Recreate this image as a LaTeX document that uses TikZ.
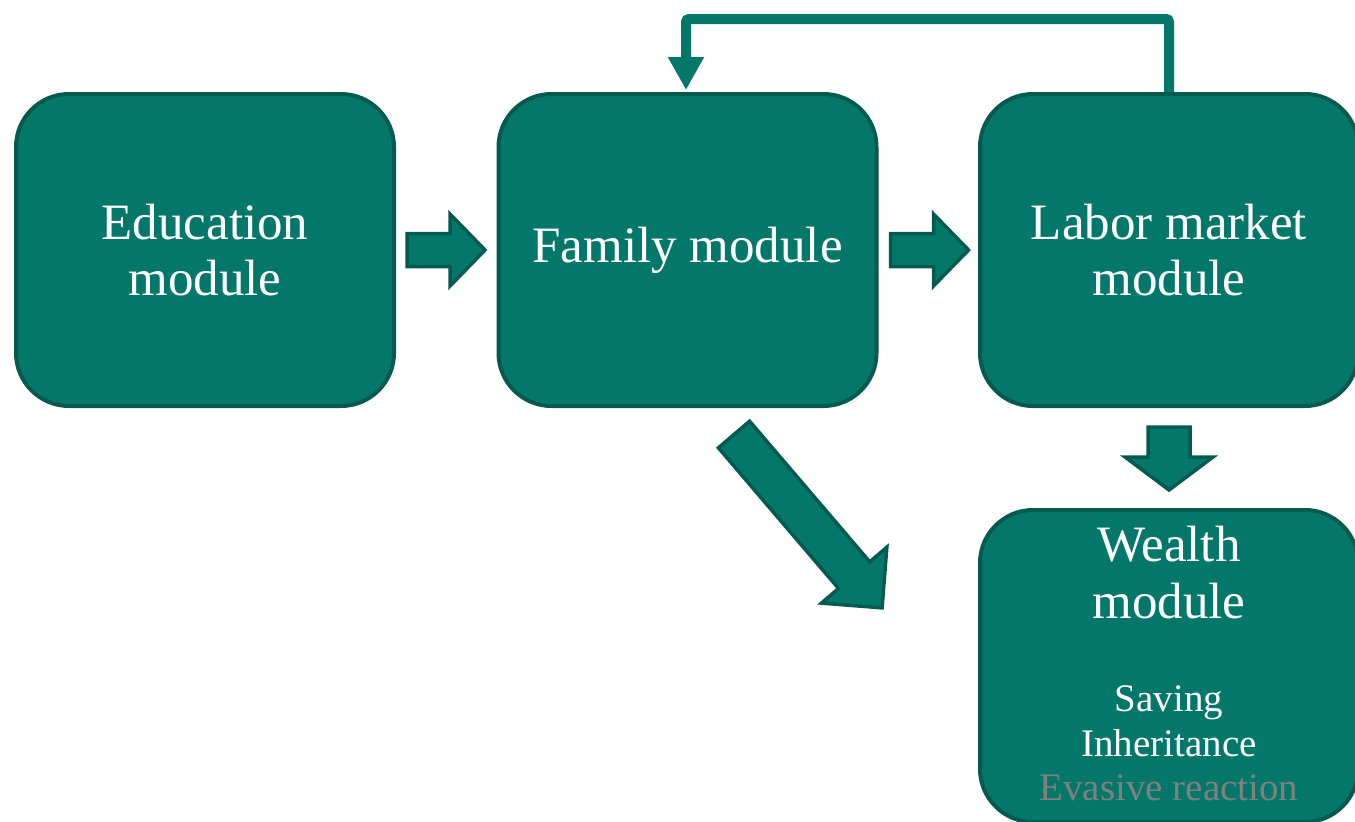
\documentclass[tikz,border=0pt]{standalone}
\usepackage{fontspec}
\setmainfont{Liberation Serif}
\usetikzlibrary{arrows.meta,calc}
\definecolor{tealfill}{RGB}{3,120,106}
\definecolor{tealline}{RGB}{4,90,78}
\definecolor{evgray}{RGB}{128,128,128}
\tikzset{
  modbox/.style={rectangle, rounded corners=53pt, fill=tealfill, draw=tealline, line width=4pt,
    minimum width=378pt, minimum height=312pt, inner sep=0pt, text=white, align=center,
    font=\fontsize{51}{56}\selectfont},
  blockarrow/.style={fill=tealfill, draw=tealline, line width=3.5pt, line join=miter},
  bigtext/.style={text=white, font=\fontsize{51}{56}\selectfont, inner sep=0pt, anchor=base},
  smalltext/.style={text=white, font=\fontsize{39}{44}\selectfont, inner sep=0pt, anchor=base},
  feedback/.style={draw=tealfill, line width=10pt, rounded corners=3pt,
    -{Triangle[width=34pt,length=33pt]}},
}
% block arrow: tail at origin pointing along +x; #1 shaft half width, #2 shaft length, #3 head half width, #4 head length
\newcommand{\blockarr}[4]{(0,-#1) -- (#2,-#1) -- (#2,-#3) -- (#2+#4,0) -- (#2,#3) -- (#2,#1) -- (0,#1) -- cycle}
\begin{document}
\begin{tikzpicture}[x=1pt,y=-1pt]
\useasboundingbox (0,0) rectangle (1355,822);
\clip (0,0) rectangle (1355,822);

\node[modbox] (edu) at (205,250) {Education\\module};
\node[modbox] (fam) at (687.5,250) {\raisebox{-3pt}{Family module}};
\node[modbox] (lab) at (1169,250) {Labor market\\module};
\node[modbox] (wea) at (1169,666) {};

\node[bigtext] (w1) at ($(wea.north)+(0,53)$) {Wealth};
\node[bigtext] (w2) at ($(wea.north)+(0,110)$) {module};
\node[smalltext] (w3) at ($(wea.north)+(0,203)$) {Saving};
\node[smalltext] (w4) at ($(wea.north)+(0,248)$) {Inheritance};
\node[smalltext, text=evgray] (w5) at ($(wea.north)+(0,292)$) {Evasive reaction};

% block arrows
\begin{scope}[shift={($(edu.east)+(11,0)$)}]
  \path[blockarrow] \blockarr{16.5}{43}{36}{35};
\end{scope}
\begin{scope}[shift={($(fam.east)+(12,0)$)}]
  \path[blockarrow] \blockarr{16.5}{43}{36}{35};
\end{scope}
\begin{scope}[shift={($(lab.south)+(0,19)$)}, rotate=-90]
  \path[blockarrow] \blockarr{21}{30}{44}{33};
\end{scope}
\begin{scope}[shift={(734,434.5)}, rotate=-49.5]
  \path[blockarrow] \blockarr{20.5}{185}{43}{43};
\end{scope}

% feedback connector
\coordinate (fbR) at ($(lab.north)+(0,-73)$);
\coordinate (fbL) at ($(fam.north)+(-1.5,-73)$);
\draw[feedback] (lab.north) -- (fbR) -- (fbL) -- ($(fam.north)+(-1.5,-2)$);
\end{tikzpicture}
\end{document}
